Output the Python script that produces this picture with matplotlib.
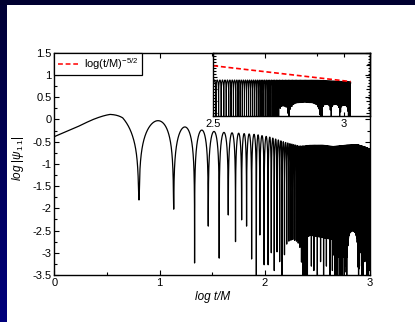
import numpy as np
import matplotlib
matplotlib.use('Agg')
import matplotlib.pyplot as plt
from matplotlib.lines import Line2D
from matplotlib.patches import Rectangle

plt.rcParams['font.family'] = ['Liberation Sans', 'DejaVu Sans']
plt.rcParams['axes.unicode_minus'] = False
plt.rcParams['mathtext.fontset'] = 'custom'
plt.rcParams['mathtext.rm'] = 'Liberation Sans'
plt.rcParams['mathtext.it'] = 'Liberation Sans:italic'
plt.rcParams['mathtext.bf'] = 'Liberation Sans:bold'
plt.rcParams['lines.scale_dashes'] = False

# ---------------- values ----------------
# positions (log t/M) of the resolved zeros of the waveform and the depth each dip reaches
ZERO_LOGT = [0.804, 1.134, 1.333, 1.463, 1.567, 1.653, 1.722, 1.780, 1.827,
             1.875, 1.920, 1.953, 1.994, 2.032]
DIP_DEPTH = [-1.81, -2.02, -3.23, -2.40, -3.12, -2.15, -2.75, -2.26, -2.40,
             -3.14, -3.55, -2.60, -3.27, -3.27]
X_END = 3.026   # last sample of the run (log t/M)

# upper envelope of log|psi| (main panel)
ENV_X = [0.0, 0.21, 0.37, 0.53, 0.65, 0.75, 0.96, 1.22, 1.40, 1.59, 1.75, 1.92,
         2.05, 2.20, 2.33, 2.45, 2.55, 2.65, 2.78, 2.88, 2.95, 3.03]
ENV_Y = [-0.30, -0.15, 0.00, 0.14, 0.19, 0.10, -0.01, -0.16, -0.24, -0.29, -0.31,
         -0.34, -0.40, -0.52, -0.60, -0.58, -0.58, -0.61, -0.58, -0.57, -0.62, -0.70]

# lower boundary of the dense (unresolved) part, main panel
FLOOR_X = [2.03, 2.07, 2.12, 2.17, 2.36, 2.42, 2.64, 2.66, 2.76, 2.78, 2.89, 2.91, 3.03]
FLOOR_Y = [-3.0, -2.7, -3.0, -3.6, -3.6, -2.6, -2.7, -3.1, -3.1, -3.6, -3.6, -2.75, -2.8]
ARCH_START = [2.17, 2.78]
ARCH_END = [2.36, 2.89]
ARCH_PEAK = [-2.70, -2.50]
SPIKE_X = [2.06, 2.09, 2.14, 2.365, 2.38, 2.395, 2.41, 2.44, 2.47, 2.50, 2.53, 2.56,
           2.59, 2.62, 2.645, 2.665, 2.68, 2.695, 2.71, 2.725, 2.74, 2.755,
           2.90, 2.92, 2.935, 2.95, 2.97, 2.985, 2.995]
SPIKE_Y = [-3.0, -3.4, -3.2, -3.55, -3.55, -3.55, -3.55, -3.3, -3.4, -3.5, -3.2, -3.5,
           -3.3, -3.5, -3.4, -3.5, -3.5, -3.5, -3.5, -3.5, -3.5, -3.5,
           -3.3, -3.5, -3.5, -3.2, -3.5, -3.5, -3.4]

# inset panel
INSET_ENV_X = [2.50, 2.90, 3.03]
INSET_ENV_Y = [-2.26, -2.28, -2.42]
INSET_DEEP = -6.0
INSET_ARCH_START = [2.752, 2.790, 2.916, 2.951, 2.986]
INSET_ARCH_END = [2.786, 2.910, 2.950, 2.984, 3.016]
INSET_ARCH_PEAK = [-4.42, -4.11, -4.28, -4.28, -4.35]
TAIL_AT_25 = -1.08     # value of the t^-5/2 reference line at log t/M = 2.5
TAIL_SLOPE = -2.5

# arch profile template (fraction of width, offset from peak)
ARCH_S = [0, 0.04, 0.12, 0.25, 0.5, 0.75, 0.88, 0.96, 1]
ARCH_D = [-1.3, -0.6, -0.2, -0.05, 0, -0.05, -0.2, -0.6, -1.3]

MAIN_XTICKS = [0, 1, 2, 3]
MAIN_YTICKS = [-3.5, -3, -2.5, -2, -1.5, -1, -0.5, 0, 0.5, 1, 1.5]
INSET_XTICKS = [2.5, 3.0]
INSET_XLABELS = ['2.5', '3']

# ---------------- build the waveform ----------------
t_zero = 10 ** np.array(ZERO_LOGT)
H = np.polyfit(np.arange(len(t_zero)), t_zero, 1)[0]
n_after = int(np.ceil((10 ** X_END - t_zero[-1]) / H)) + 2
t_full = np.concatenate([[t_zero[0] - H], t_zero, t_zero[-1] + H * np.arange(1, n_after + 1)])
k_full = np.arange(len(t_full), dtype=float)
x_full = np.log10(np.clip(t_full, 1e-9, None))


def arch_floor(x, base, starts, ends, peaks):
    out = np.array(base, dtype=float).copy()
    for a, b, p in zip(starts, ends, peaks):
        m = (x > a) & (x < b)
        s = (x[m] - a) / (b - a)
        out[m] = np.maximum(out[m], p + np.interp(s, ARCH_S, ARCH_D))
    return out


# depths of every zero, main panel
depth_main = np.interp(x_full, FLOOR_X, FLOOR_Y)
depth_main = arch_floor(x_full, depth_main, ARCH_START, ARCH_END, ARCH_PEAK)
depth_main[1:1 + len(DIP_DEPTH)] = DIP_DEPTH
for sx, sy in zip(SPIKE_X, SPIKE_Y):
    j = np.argmin(np.abs(x_full - sx))
    if j > len(DIP_DEPTH):
        depth_main[j] = sy

# depths, inset panel
depth_in = arch_floor(x_full, np.full(len(x_full), INSET_DEEP),
                      INSET_ARCH_START, INSET_ARCH_END, INSET_ARCH_PEAK)


def waveform(x0, env_x, env_y, depth):
    xg = np.linspace(x0, X_END, 60000)
    tg = 10 ** xg
    u = np.interp(tg, t_full, k_full)
    raw = np.interp(xg, env_x, env_y) + np.log10(np.abs(np.sin(np.pi * u)) + 1e-14)
    j = np.rint(u).astype(int)
    y = np.maximum(raw, depth[j])
    mz = (x_full > x0) & (x_full < X_END)
    xs = np.concatenate([xg, x_full[mz]])
    ys = np.concatenate([y, depth[mz]])
    o = np.argsort(xs)
    return xs[o], ys[o]


xm, ym = waveform(0.0, ENV_X, ENV_Y, depth_main)
xi, yi = waveform(2.5, INSET_ENV_X, INSET_ENV_Y, depth_in)

# ---------------- figure ----------------
W, Hh = 415, 322
fig = plt.figure(figsize=(W / 100, Hh / 100), dpi=100)
fig.patch.set_facecolor('white')

bg = fig.add_axes([0, 0, 1, 1], zorder=-10)
bg.set_xlim(0, W)
bg.set_ylim(Hh, 0)
bg.axis('off')
grad = np.linspace(0, 1, 256).reshape(-1, 1)
from matplotlib.colors import LinearSegmentedColormap
cm = LinearSegmentedColormap.from_list('nv', ['#000034', '#00007c'])
bg.imshow(grad, cmap=cm, aspect='auto', extent=(0, 6, Hh, 0), interpolation='bilinear')
bg.add_patch(Rectangle((0, 0), W, 5, color='#000030', lw=0))
bg.set_xlim(0, W)
bg.set_ylim(Hh, 0)

# main axes (transparent so its frame and ticks show over the inset)
ax = fig.add_axes([54.3 / W, 1 - 275 / Hh, (370 - 54.3) / W, (275 - 52.7) / Hh], zorder=2)
ax.set_facecolor('none')
ax.plot(xm, ym, color='black', lw=0.9)
ax.set_xlim(0, 3)
ax.set_ylim(-3.5, 1.5)
ax.set_xticks(MAIN_XTICKS)
ax.set_xticklabels([f'{v:g}' for v in MAIN_XTICKS])
ax.set_xticks([0.5, 1.5, 2.5], minor=True)
ax.set_yticks(MAIN_YTICKS)
ax.set_yticklabels([f'{v:g}' for v in MAIN_YTICKS])
ax.set_yticks(np.arange(-3.25, 1.5, 0.5), minor=True)
ax.tick_params(which='both', direction='in', top=True, right=True, labelsize=8, width=0.8, pad=2)
ax.tick_params(which='major', length=3.5)
ax.tick_params(which='minor', length=2)
for sp in ax.spines.values():
    sp.set_linewidth(1.0)
ax.set_xlabel('log t/M', fontsize=8.5, style='italic', labelpad=2)
ax.set_ylabel(r'$\mathit{log}\ |\psi_{1\,1}|$', fontsize=8.5)
ax.yaxis.set_label_coords((26 - 54.3) / (370 - 54.3), 1 - (158 - 52.7) / (275 - 52.7))

h = Line2D([], [], color='red', ls=(0, (3.5, 2.0)), lw=1.1)
leg = ax.legend([h], [r'log(t/M)$^{-5/2}$'], loc='upper left', bbox_to_anchor=(0, 1),
                borderaxespad=0, fontsize=8, frameon=True, fancybox=False, edgecolor='black',
                framealpha=1, handlelength=1.8, handletextpad=0.55, borderpad=0.3)
leg.get_frame().set_linewidth(0.9)

# inset
axi = fig.add_axes([213.3 / W, 1 - 116 / Hh, (370 - 213.3) / W, (116 - 52.7) / Hh], zorder=1)
axi.set_facecolor('white')
axi.plot(xi, yi, color='black', lw=0.8)
tail_x = np.array([2.5, X_END])
axi.plot(tail_x, TAIL_AT_25 + TAIL_SLOPE * (tail_x - 2.5), color='red', lw=1.2, ls=(0, (3.5, 2.0)))
axi.set_xlim(2.5, 3.1)
axi.set_ylim(-5.25, 0)
axi.set_xticks(INSET_XTICKS)
axi.set_xticklabels(INSET_XLABELS)
axi.set_yticks(np.arange(-5, 0.01, 1.0))
axi.set_yticks(np.arange(-5.25, 0.01, 0.25), minor=True)
axi.tick_params(axis='y', which='both', labelleft=False)
axi.tick_params(which='both', direction='in', top=True, right=True, labelsize=8, width=0.8, pad=2)
axi.tick_params(which='major', length=3)
axi.tick_params(which='minor', length=1.8)
for sp in axi.spines.values():
    sp.set_linewidth(1.0)

fig.savefig('out.png', dpi=100, facecolor=fig.get_facecolor())
